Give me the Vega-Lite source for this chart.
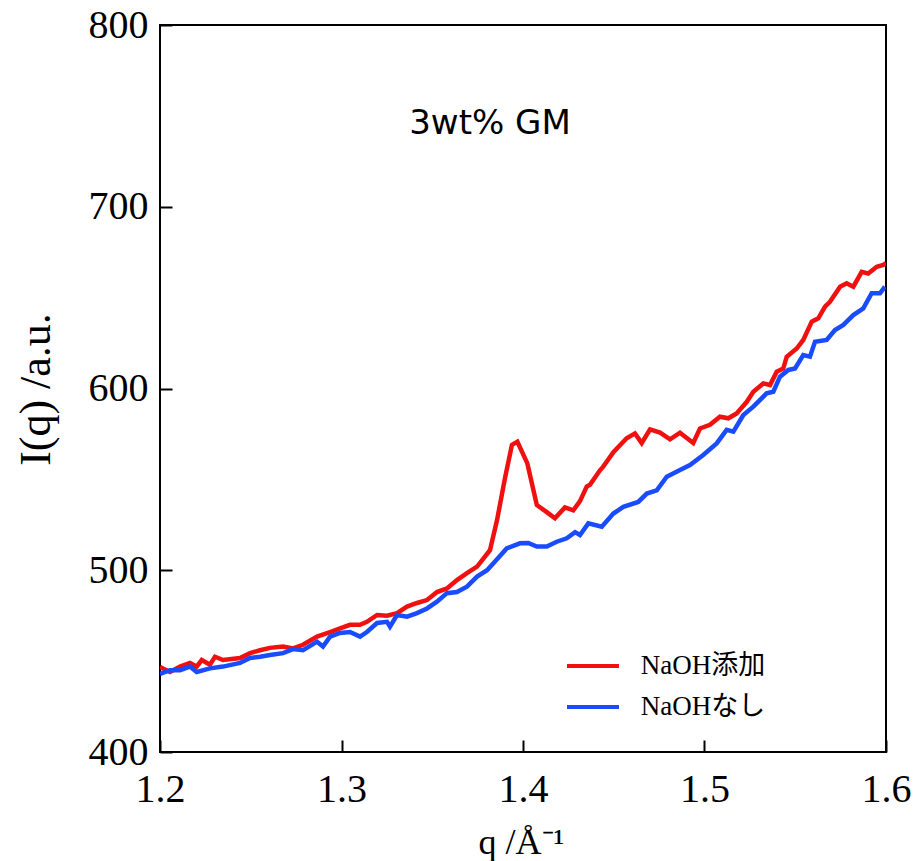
{
  "$schema": "https://vega.github.io/schema/vega-lite/v6.json",
  "autosize": {"type": "none"},
  "width": 726,
  "height": 727,
  "padding": {"left": 160, "top": 25, "right": 38, "bottom": 109},
  "background": "white",
  "config": {
    "view": {"stroke": "black", "strokeWidth": 2},
    "axis": {"grid": false, "domain": false, "tickColor": "black", "tickWidth": 2, "tickSize": -12,
      "labelFlush": false, "labelOverlap": false,
      "labelFont": "Liberation Serif", "labelFontSize": 40, "labelColor": "black",
      "titleFont": "Liberation Serif", "titleColor": "black", "titleFontWeight": "normal"}
  },
  "datasets": {
    "curves": [
      {"q": 1.2000, "I": 446.8, "s": "NaOH添加"},
      {"q": 1.2055, "I": 444.0, "s": "NaOH添加"},
      {"q": 1.2110, "I": 447.0, "s": "NaOH添加"},
      {"q": 1.2165, "I": 449.0, "s": "NaOH添加"},
      {"q": 1.2202, "I": 447.0, "s": "NaOH添加"},
      {"q": 1.2230, "I": 450.6, "s": "NaOH添加"},
      {"q": 1.2275, "I": 448.0, "s": "NaOH添加"},
      {"q": 1.2303, "I": 452.4, "s": "NaOH添加"},
      {"q": 1.2347, "I": 450.6, "s": "NaOH添加"},
      {"q": 1.2441, "I": 451.7, "s": "NaOH添加"},
      {"q": 1.2496, "I": 454.4, "s": "NaOH添加"},
      {"q": 1.2551, "I": 456.0, "s": "NaOH添加"},
      {"q": 1.2606, "I": 457.3, "s": "NaOH添加"},
      {"q": 1.2678, "I": 458.0, "s": "NaOH添加"},
      {"q": 1.2733, "I": 457.0, "s": "NaOH添加"},
      {"q": 1.2788, "I": 459.0, "s": "NaOH添加"},
      {"q": 1.2865, "I": 463.5, "s": "NaOH添加"},
      {"q": 1.2937, "I": 466.0, "s": "NaOH添加"},
      {"q": 1.2992, "I": 468.0, "s": "NaOH添加"},
      {"q": 1.3047, "I": 470.0, "s": "NaOH添加"},
      {"q": 1.3102, "I": 470.0, "s": "NaOH添加"},
      {"q": 1.3140, "I": 471.6, "s": "NaOH添加"},
      {"q": 1.3196, "I": 475.4, "s": "NaOH添加"},
      {"q": 1.3251, "I": 475.0, "s": "NaOH添加"},
      {"q": 1.3306, "I": 476.4, "s": "NaOH添加"},
      {"q": 1.3361, "I": 480.0, "s": "NaOH添加"},
      {"q": 1.3416, "I": 482.0, "s": "NaOH添加"},
      {"q": 1.3471, "I": 483.6, "s": "NaOH添加"},
      {"q": 1.3526, "I": 488.0, "s": "NaOH添加"},
      {"q": 1.3581, "I": 490.0, "s": "NaOH添加"},
      {"q": 1.3636, "I": 494.6, "s": "NaOH添加"},
      {"q": 1.3691, "I": 498.4, "s": "NaOH添加"},
      {"q": 1.3747, "I": 502.0, "s": "NaOH添加"},
      {"q": 1.3818, "I": 511.0, "s": "NaOH添加"},
      {"q": 1.3857, "I": 527.6, "s": "NaOH添加"},
      {"q": 1.3901, "I": 550.8, "s": "NaOH添加"},
      {"q": 1.3939, "I": 569.0, "s": "NaOH添加"},
      {"q": 1.3969, "I": 570.7, "s": "NaOH添加"},
      {"q": 1.4024, "I": 558.8, "s": "NaOH添加"},
      {"q": 1.4076, "I": 535.9, "s": "NaOH添加"},
      {"q": 1.4131, "I": 532.0, "s": "NaOH添加"},
      {"q": 1.4176, "I": 528.6, "s": "NaOH添加"},
      {"q": 1.4231, "I": 534.6, "s": "NaOH添加"},
      {"q": 1.4277, "I": 533.0, "s": "NaOH添加"},
      {"q": 1.4314, "I": 538.0, "s": "NaOH添加"},
      {"q": 1.4351, "I": 546.0, "s": "NaOH添加"},
      {"q": 1.4369, "I": 547.0, "s": "NaOH添加"},
      {"q": 1.4424, "I": 555.0, "s": "NaOH添加"},
      {"q": 1.4442, "I": 557.0, "s": "NaOH添加"},
      {"q": 1.4498, "I": 565.0, "s": "NaOH添加"},
      {"q": 1.4571, "I": 572.6, "s": "NaOH添加"},
      {"q": 1.4617, "I": 575.3, "s": "NaOH添加"},
      {"q": 1.4654, "I": 570.0, "s": "NaOH添加"},
      {"q": 1.4700, "I": 577.5, "s": "NaOH添加"},
      {"q": 1.4755, "I": 575.7, "s": "NaOH添加"},
      {"q": 1.4810, "I": 572.0, "s": "NaOH添加"},
      {"q": 1.4865, "I": 575.7, "s": "NaOH添加"},
      {"q": 1.4938, "I": 570.0, "s": "NaOH添加"},
      {"q": 1.4975, "I": 578.0, "s": "NaOH添加"},
      {"q": 1.5030, "I": 580.0, "s": "NaOH添加"},
      {"q": 1.5085, "I": 584.5, "s": "NaOH添加"},
      {"q": 1.5131, "I": 583.6, "s": "NaOH添加"},
      {"q": 1.5177, "I": 586.3, "s": "NaOH添加"},
      {"q": 1.5233, "I": 592.7, "s": "NaOH添加"},
      {"q": 1.5269, "I": 598.2, "s": "NaOH添加"},
      {"q": 1.5324, "I": 602.8, "s": "NaOH添加"},
      {"q": 1.5361, "I": 601.9, "s": "NaOH添加"},
      {"q": 1.5398, "I": 609.2, "s": "NaOH添加"},
      {"q": 1.5434, "I": 611.0, "s": "NaOH添加"},
      {"q": 1.5453, "I": 617.5, "s": "NaOH添加"},
      {"q": 1.5508, "I": 622.0, "s": "NaOH添加"},
      {"q": 1.5544, "I": 626.7, "s": "NaOH添加"},
      {"q": 1.5591, "I": 636.8, "s": "NaOH添加"},
      {"q": 1.5627, "I": 638.6, "s": "NaOH添加"},
      {"q": 1.5664, "I": 645.0, "s": "NaOH添加"},
      {"q": 1.5691, "I": 647.7, "s": "NaOH添加"},
      {"q": 1.5747, "I": 656.0, "s": "NaOH添加"},
      {"q": 1.5783, "I": 657.9, "s": "NaOH添加"},
      {"q": 1.5820, "I": 656.0, "s": "NaOH添加"},
      {"q": 1.5866, "I": 664.2, "s": "NaOH添加"},
      {"q": 1.5902, "I": 663.3, "s": "NaOH添加"},
      {"q": 1.5949, "I": 667.0, "s": "NaOH添加"},
      {"q": 1.5985, "I": 668.0, "s": "NaOH添加"},
      {"q": 1.6000, "I": 669.0, "s": "NaOH添加"},
      {"q": 1.2000, "I": 443.0, "s": "NaOHなし"},
      {"q": 1.2055, "I": 445.0, "s": "NaOHなし"},
      {"q": 1.2110, "I": 445.0, "s": "NaOHなし"},
      {"q": 1.2165, "I": 447.0, "s": "NaOHなし"},
      {"q": 1.2202, "I": 444.0, "s": "NaOHなし"},
      {"q": 1.2275, "I": 446.0, "s": "NaOHなし"},
      {"q": 1.2347, "I": 447.0, "s": "NaOHなし"},
      {"q": 1.2441, "I": 449.0, "s": "NaOHなし"},
      {"q": 1.2496, "I": 451.7, "s": "NaOHなし"},
      {"q": 1.2551, "I": 452.4, "s": "NaOHなし"},
      {"q": 1.2606, "I": 453.4, "s": "NaOHなし"},
      {"q": 1.2678, "I": 454.4, "s": "NaOHなし"},
      {"q": 1.2733, "I": 456.6, "s": "NaOHなし"},
      {"q": 1.2788, "I": 456.0, "s": "NaOHなし"},
      {"q": 1.2865, "I": 460.7, "s": "NaOHなし"},
      {"q": 1.2898, "I": 458.0, "s": "NaOHなし"},
      {"q": 1.2937, "I": 463.5, "s": "NaOHなし"},
      {"q": 1.2992, "I": 465.5, "s": "NaOHなし"},
      {"q": 1.3047, "I": 466.0, "s": "NaOHなし"},
      {"q": 1.3102, "I": 463.5, "s": "NaOHなし"},
      {"q": 1.3140, "I": 466.0, "s": "NaOHなし"},
      {"q": 1.3196, "I": 471.0, "s": "NaOHなし"},
      {"q": 1.3251, "I": 471.6, "s": "NaOHなし"},
      {"q": 1.3267, "I": 469.0, "s": "NaOHなし"},
      {"q": 1.3306, "I": 475.4, "s": "NaOHなし"},
      {"q": 1.3361, "I": 474.5, "s": "NaOHなし"},
      {"q": 1.3416, "I": 476.4, "s": "NaOHなし"},
      {"q": 1.3471, "I": 479.0, "s": "NaOHなし"},
      {"q": 1.3526, "I": 482.7, "s": "NaOHなし"},
      {"q": 1.3581, "I": 487.4, "s": "NaOHなし"},
      {"q": 1.3636, "I": 488.0, "s": "NaOHなし"},
      {"q": 1.3691, "I": 491.0, "s": "NaOHなし"},
      {"q": 1.3747, "I": 496.5, "s": "NaOHなし"},
      {"q": 1.3802, "I": 500.0, "s": "NaOHなし"},
      {"q": 1.3857, "I": 506.0, "s": "NaOHなし"},
      {"q": 1.3910, "I": 512.0, "s": "NaOHなし"},
      {"q": 1.3983, "I": 514.8, "s": "NaOHなし"},
      {"q": 1.4029, "I": 515.0, "s": "NaOHなし"},
      {"q": 1.4076, "I": 513.0, "s": "NaOHなし"},
      {"q": 1.4131, "I": 513.0, "s": "NaOHなし"},
      {"q": 1.4186, "I": 515.7, "s": "NaOHなし"},
      {"q": 1.4241, "I": 517.6, "s": "NaOHなし"},
      {"q": 1.4287, "I": 521.0, "s": "NaOHなし"},
      {"q": 1.4314, "I": 519.4, "s": "NaOHなし"},
      {"q": 1.4360, "I": 525.8, "s": "NaOHなし"},
      {"q": 1.4434, "I": 524.0, "s": "NaOHなし"},
      {"q": 1.4498, "I": 531.2, "s": "NaOHなし"},
      {"q": 1.4553, "I": 534.9, "s": "NaOHなし"},
      {"q": 1.4635, "I": 537.6, "s": "NaOHなし"},
      {"q": 1.4682, "I": 542.2, "s": "NaOHなし"},
      {"q": 1.4737, "I": 544.0, "s": "NaOHなし"},
      {"q": 1.4792, "I": 551.5, "s": "NaOHなし"},
      {"q": 1.4865, "I": 555.2, "s": "NaOHなし"},
      {"q": 1.4920, "I": 557.9, "s": "NaOHなし"},
      {"q": 1.4993, "I": 563.4, "s": "NaOHなし"},
      {"q": 1.5067, "I": 569.8, "s": "NaOHなし"},
      {"q": 1.5122, "I": 577.2, "s": "NaOHなし"},
      {"q": 1.5159, "I": 576.2, "s": "NaOHなし"},
      {"q": 1.5214, "I": 585.4, "s": "NaOHなし"},
      {"q": 1.5269, "I": 590.0, "s": "NaOHなし"},
      {"q": 1.5342, "I": 597.3, "s": "NaOHなし"},
      {"q": 1.5379, "I": 598.2, "s": "NaOHなし"},
      {"q": 1.5416, "I": 606.5, "s": "NaOHなし"},
      {"q": 1.5462, "I": 610.2, "s": "NaOHなし"},
      {"q": 1.5499, "I": 611.0, "s": "NaOHなし"},
      {"q": 1.5544, "I": 618.4, "s": "NaOHなし"},
      {"q": 1.5581, "I": 617.5, "s": "NaOHなし"},
      {"q": 1.5609, "I": 625.7, "s": "NaOHなし"},
      {"q": 1.5673, "I": 626.7, "s": "NaOHなし"},
      {"q": 1.5719, "I": 632.2, "s": "NaOHなし"},
      {"q": 1.5765, "I": 635.0, "s": "NaOHなし"},
      {"q": 1.5820, "I": 640.4, "s": "NaOHなし"},
      {"q": 1.5875, "I": 644.1, "s": "NaOHなし"},
      {"q": 1.5921, "I": 652.4, "s": "NaOHなし"},
      {"q": 1.5967, "I": 652.4, "s": "NaOHなし"},
      {"q": 1.5994, "I": 656.0, "s": "NaOHなし"}
    ],
    "note": [{"q": 1.3818, "I": 745.5, "t": "3wt% GM"}]
  },
  "layer": [
    {
      "data": {"name": "curves"},
      "mark": {"type": "line", "strokeWidth": 4.5, "clip": true},
      "encoding": {
        "x": {"field": "q", "type": "quantitative",
          "scale": {"domain": [1.2, 1.6], "nice": false, "zero": false},
          "axis": {"values": [1.2, 1.3, 1.4, 1.5, 1.6], "format": ".1f", "labelPadding": 29,
            "title": "q /Å⁻¹", "titleFontSize": 36, "titleX": 361, "titleY": 101, "titleBaseline": "alphabetic", "titleAlign": "center"}},
        "y": {"field": "I", "type": "quantitative",
          "scale": {"domain": [400, 800], "nice": false, "zero": false},
          "axis": {"values": [400, 500, 600, 700, 800], "labelPadding": 24,
            "title": "I(q) /a.u.", "titleFontSize": 44, "titleX": -124, "titleY": 364, "titleAngle": -90, "titleBaseline": "middle", "titleAlign": "center"}},
        "color": {"field": "s", "type": "nominal",
          "scale": {"domain": ["NaOH添加", "NaOHなし"], "range": ["#f01010", "#1a4cff"]},
          "legend": {"title": null, "orient": "none", "legendX": 405, "legendY": 613,
            "symbolType": "stroke", "symbolSize": 2700, "symbolStrokeWidth": 4,
            "labelFont": "Liberation Serif, Noto Sans CJK JP", "labelFontSize": 27, "labelColor": "black",
            "labelAlign": "center", "labelOffset": 82, "rowPadding": -5}},
        "detail": {"field": "s"}
      }
    },
    {
      "data": {"name": "note"},
      "mark": {"type": "text", "font": "DejaVu Sans", "fontSize": 34, "color": "black", "align": "center", "baseline": "middle"},
      "encoding": {
        "x": {"field": "q", "type": "quantitative"},
        "y": {"field": "I", "type": "quantitative"},
        "text": {"field": "t"}
      }
    }
  ]
}
